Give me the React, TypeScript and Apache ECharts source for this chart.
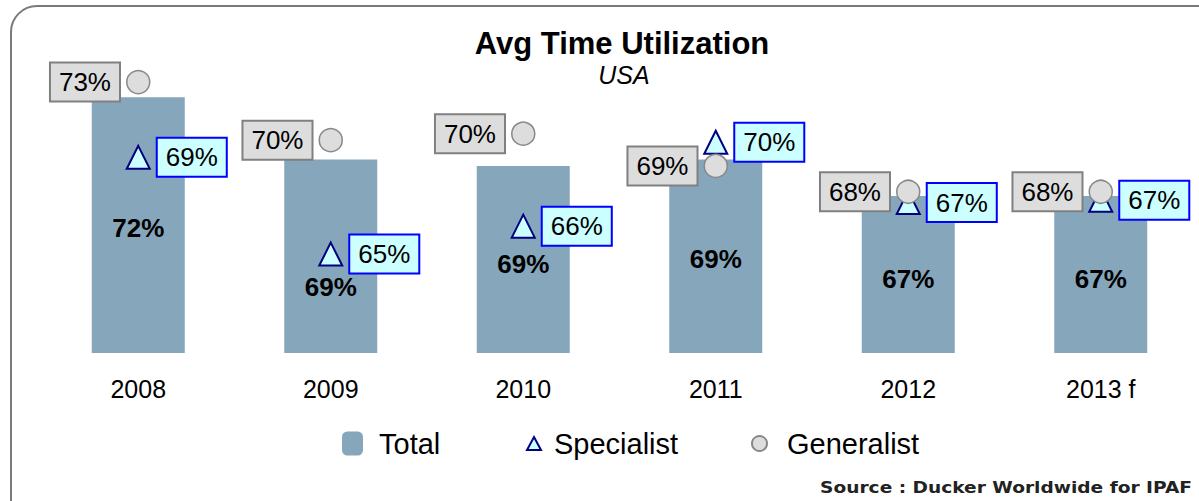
import React, { useEffect, useRef } from "react";
import * as echarts from "echarts";

const years = ["2008", "2009", "2010", "2011", "2012", "2013 f"];
const totalValues = [71.9, 69.0, 68.7, 69.0, 67.3, 67.3];
const specialistValues = [69.1, 64.6, 65.9, 69.8, 67.0, 67.1];
const generalistValues = [72.6, 69.9, 70.2, 68.7, 67.5, 67.5];

const barLabelShift = [3, 31, 5, 3, 4, 4];

const FONT = "'Liberation Sans', Arial, sans-serif";

export default function App() {
  const ref = useRef<HTMLDivElement>(null);
  useEffect(() => {
    if (!ref.current) return;
    const chart = echarts.init(ref.current, undefined, { renderer: "svg" });
    const pct = (p: any) => Math.round(Number(p.value)) + "%";
    const boxLabel = {
      show: true,
      formatter: pct,
      fontSize: 26,
      fontFamily: FONT,
      color: "#000",
      padding: [6, 8, 5, 8],
      distance: 7,
    };
    const legendText = (pad: number) => ({
      fontSize: 29,
      color: "#000",
      fontFamily: FONT,
      padding: [0, 0, 0, pad],
    });
    chart.setOption({
      animation: false,
      textStyle: { fontFamily: FONT },
      grid: { left: 42, right: 2, top: 9, bottom: 148 },
      xAxis: {
        type: "category",
        data: years,
        axisLine: { show: false },
        axisTick: { show: false },
        axisLabel: { fontSize: 25, color: "#000", margin: 23, fontFamily: FONT },
      },
      yAxis: { type: "value", min: 60, max: 76, show: false },
      legend: [
        {
          data: ["Total"],
          left: 342,
          top: 429,
          itemWidth: 21,
          itemHeight: 24,
          padding: 0,
          textStyle: legendText(11),
        },
        {
          data: ["Specialist"],
          left: 526,
          top: 429,
          itemWidth: 14,
          itemHeight: 13,
          padding: 0,
          textStyle: legendText(8),
        },
        {
          data: ["Generalist"],
          left: 751,
          top: 429,
          itemWidth: 15,
          itemHeight: 15,
          padding: 0,
          textStyle: legendText(15),
        },
      ],
      graphic: [
        {
          type: "rect",
          shape: { x: 11, y: 6, width: 1260, height: 560, r: 26 },
          style: { fill: "none", stroke: "#7a7a7a", lineWidth: 2 },
          silent: true,
        },
        {
          type: "text",
          x: 622,
          y: 43,
          style: {
            text: "Avg Time Utilization",
            font: "bold 31px " + FONT,
            fill: "#000",
            textAlign: "center",
            textVerticalAlign: "middle",
          },
        },
        {
          type: "text",
          x: 624,
          y: 75,
          style: {
            text: "USA",
            font: "italic 25px " + FONT,
            fill: "#000",
            textAlign: "center",
            textVerticalAlign: "middle",
          },
        },
        {
          type: "text",
          x: 1192,
          y: 488,
          scaleX: 1.24,
          style: {
            text: "Source : Ducker Worldwide for IPAF",
            font: "bold 15px 'DejaVu Sans', sans-serif",
            fill: "#222",
            textAlign: "right",
            textVerticalAlign: "middle",
          },
        },
      ],
      series: [
        {
          name: "Total",
          type: "bar",
          barWidth: 93,
          itemStyle: { color: "#86a6bb" },
          silent: true,
          data: totalValues.map((v, i) => ({
            value: v,
            label: { offset: [0, barLabelShift[i]] },
          })),
          label: {
            show: true,
            position: "inside",
            formatter: pct,
            fontSize: 26,
            fontWeight: "bold",
            color: "#000",
            fontFamily: FONT,
          },
        },
        {
          name: "Specialist",
          type: "scatter",
          symbol: "triangle",
          symbolSize: [23, 23],
          silent: true,
          itemStyle: { color: "#ccffff", borderColor: "#000080", borderWidth: 2, opacity: 1 },
          data: specialistValues,
          label: {
            ...boxLabel,
            position: "right",
            backgroundColor: "#ccffff",
            borderColor: "#0000ff",
            borderWidth: 2,
          },
        },
        {
          name: "Generalist",
          type: "scatter",
          symbol: "circle",
          symbolSize: 23,
          silent: true,
          itemStyle: { color: "#dddddd", borderColor: "#888888", borderWidth: 1.5, opacity: 1 },
          data: generalistValues,
          label: {
            ...boxLabel,
            position: "left",
            backgroundColor: "#dddddd",
            borderColor: "#808080",
            borderWidth: 2,
          },
        },
      ],
    });
    return () => chart.dispose();
  }, []);
  return (
    <div
      ref={ref}
      style={{ position: "fixed", left: 0, top: 0, width: 1199, height: 501, background: "#fff" }}
    />
  );
}
